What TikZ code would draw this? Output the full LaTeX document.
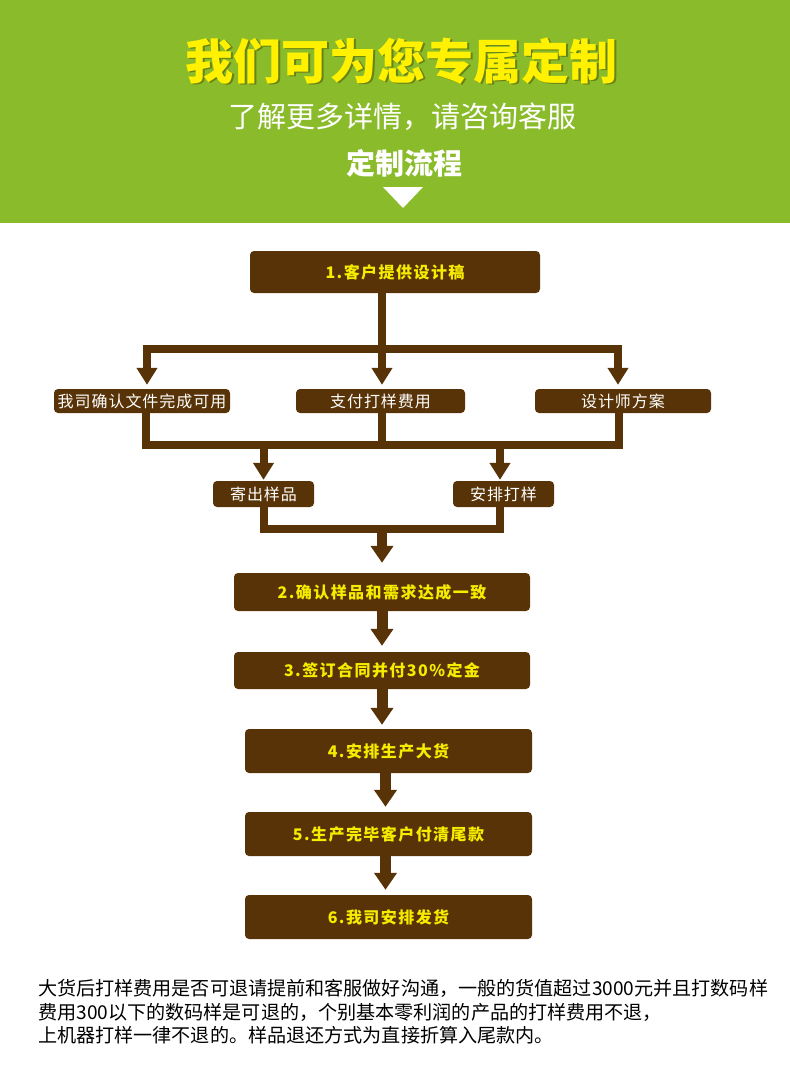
\documentclass[tikz,border=0pt]{standalone}
\usepackage{fontspec}
\setmainfont{Noto Sans CJK SC}
\newfontfamily\stepfont[LetterSpace=9]{Noto Sans CJK SC}
\newfontfamily\optfont[LetterSpace=6]{Noto Sans CJK SC}
\usetikzlibrary{arrows.meta,positioning,calc}
\definecolor{leaf}{RGB}{138,187,42}
\definecolor{shade}{RGB}{104,130,22}
\definecolor{bark}{RGB}{88,51,7}
\definecolor{lemon}{RGB}{255,241,0}
\definecolor{stepyellow}{RGB}{246,236,0}
\tikzset{
  headline/.style={text=lemon, inner sep=0pt, font=\bfseries\fontsize{48}{52}\selectfont},
  subline/.style={text=white, inner sep=0pt, font=\fontsize{29}{32}\selectfont},
  stepbox/.style={fill=bark, rounded corners=4pt, inner sep=0pt, text=stepyellow, font=\stepfont\bfseries\fontsize{16}{18}\selectfont},
  optbox/.style={fill=bark, rounded corners=4pt, inner sep=0pt, minimum height=24, text=white, font=\optfont\fontsize{16}{18}\selectfont},
  link/.style={draw=bark, line width=8pt},
  flow/.style={link, -{Triangle[width=20pt,length=17pt]}, shorten >=4pt},
  mainflow/.style={draw=bark, line width=11pt, -{Triangle[width=22pt,length=17pt]}, shorten >=6pt},
  note/.style={anchor=base west, inner sep=0pt, text=black, font=\fontsize{19.1}{23}\selectfont}
}

\begin{document}
\begin{tikzpicture}[x=1pt,y=-1pt]
  \useasboundingbox (0,0) rectangle (790,1072);
  % banner
  \fill[leaf] (0,0) rectangle (790,223);
  \node[headline,text=shade] (titleshade) at (403,62.5) {我们可为您专属定制};
  \node[headline] (title) at (401.5,61) {我们可为您专属定制};
  \node[subline] (sub) at (402,117) {了解更多详情，请咨询客服};
  \node[subline,font=\bfseries\fontsize{29}{32}\selectfont] (flowtitle) at (404,163) {定制流程};
  \fill[white] (383,187) -- (423,187) -- (403,208) -- cycle;

  % first step and its branches
  \node[stepbox,minimum width=290,minimum height=42] (s1) at (395,272) {1.客户提供设计稿};
  \node[optbox,minimum width=176] (o1) at (142,401) {我司确认文件完成可用};
  \node[optbox,minimum width=169] (o2) at (380.5,401) {支付打样费用};
  \node[optbox,minimum width=176] (o3) at (623,401) {设计师方案};
  \node[optbox,minimum width=101,minimum height=26] (o4) at (263.5,494) {寄出样品};
  \node[optbox,minimum width=101,minimum height=26] (o5) at (503.5,494) {安排打样};

  \coordinate (j1) at (382,348.5);
  \coordinate (j2) at (382,445);
  \coordinate (j3) at (382,528.5);

  \draw[link] (s1.south -| j1) -- (j1);
  \draw[flow] (j1) -| ([xshift=5]o1.north);
  \draw[flow] (j1) -- (o2.north -| j1);
  \draw[flow] (j1) -| ([xshift=-5]o3.north);

  \draw[link] ([xshift=4]o1.south) |- (j2);
  \draw[link] (o2.south -| j2) -- (j2);
  \draw[link] ([xshift=-4]o3.south) |- (j2);
  \draw[flow,shorten >=1pt] (o4.north |- j2) -- (o4.north);
  \draw[flow,shorten >=1pt] ([xshift=-3.5]o5.north |- j2) -- ([xshift=-3.5]o5.north);

  \draw[link] (o4.south) |- (j3);
  \draw[link] ([xshift=-3.5]o5.south) |- (j3);

  % main steps
  \node[stepbox,minimum width=296,minimum height=38] (s2) at (382,592) {2.确认样品和需求达成一致};
  \node[stepbox,minimum width=296,minimum height=37] (s3) at (382,670.5) {3.签订合同并付30\%定金};
  \node[stepbox,minimum width=287,minimum height=44] (s4) at (388.5,751) {4.安排生产大货};
  \node[stepbox,minimum width=287,minimum height=44] (s5) at (388.5,834) {5.生产完毕客户付清尾款};
  \node[stepbox,minimum width=287,minimum height=44] (s6) at (388.5,917) {6.我司安排发货};

  \draw[mainflow,line width=10pt,shorten >=10pt] (j3) -- (s2.north);
  \draw[mainflow] (s2.south) -- (s3.north);
  \draw[mainflow,shorten >=4pt] (s3.south) -- (s3.south |- s4.north);
  \draw[mainflow,shorten >=5pt] ([xshift=-3]s4.south) -- ([xshift=-3]s5.north);
  \draw[mainflow,shorten >=5pt] ([xshift=-3]s5.south) -- ([xshift=-3]s6.north);

  % footnote
  \node[note] (n1) at (38,995.5) {大货后打样费用是否可退请提前和客服做好沟通，一般的货值超过3000元并且打数码样};
  \node[note] (n2) at (38,1019) {费用300以下的数码样是可退的，个别基本零利润的产品的打样费用不退，};
  \node[note] (n3) at (38,1042.5) {上机器打样一律不退的。样品退还方式为直接折算入尾款内。};
\end{tikzpicture}
\end{document}
